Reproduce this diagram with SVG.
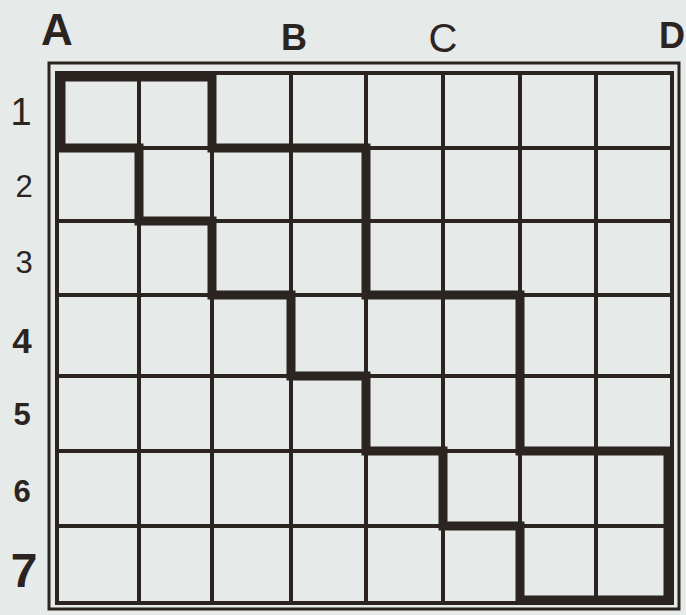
<svg xmlns="http://www.w3.org/2000/svg" width="686" height="615" viewBox="0 0 686 615">
<style>
.bg{fill:#e6eae8}
.thin{stroke:#2b2421;stroke-width:4;fill:none}
.outer{stroke:#2b2421;stroke-width:3;fill:none}
.thick{stroke:#2b2421;stroke-width:9;fill:none;stroke-linejoin:miter;stroke-linecap:square}
.lbl{font-family:"Liberation Sans",Arial,sans-serif;fill:#2b2421;text-anchor:middle}
.b{font-weight:bold}
</style>
<rect class="bg" x="0" y="0" width="686" height="615"/>
<g id="frame">
<rect class="outer" x="49" y="63" width="630" height="546"/>
<rect class="thin" x="57" y="73" width="615" height="530"/>
</g>
<g id="grid">
<path class="thin" d="M139 73V603M212 73V603M291 73V603M366 73V603M443 73V603M520 73V603M596 73V603"/>
<path class="thin" d="M57 148H672M57 221H672M57 295H672M57 376H672M57 451H672M57 526H672"/>
</g>
<g id="region">
<path class="thick" d="M61 148V77H212V148H366V295H520V451H668V600H520V526H443V451H366V376H291V295H212V221H139V148Z"/>
</g>
<g id="labels">
<text class="lbl b" x="57" y="45" font-size="44">A</text>
<text class="lbl b" x="294" y="50" font-size="36">B</text>
<text class="lbl" x="443" y="52" font-size="40">C</text>
<text class="lbl b" x="672" y="48" font-size="36">D</text>
<text class="lbl" x="21" y="125" font-size="38">1</text>
<text class="lbl" x="24" y="197" font-size="31">2</text>
<text class="lbl" x="24" y="273" font-size="31">3</text>
<text class="lbl b" x="22" y="353" font-size="35">4</text>
<text class="lbl b" x="22" y="425" font-size="31">5</text>
<text class="lbl b" x="22" y="502" font-size="31">6</text>
<text class="lbl b" x="24" y="587" font-size="48">7</text>
</g>
</svg>
